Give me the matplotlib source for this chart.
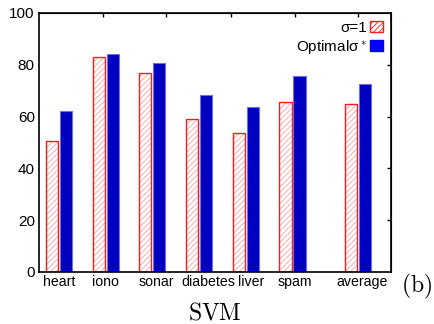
import numpy as np
import matplotlib
matplotlib.use("Agg")
import matplotlib.pyplot as plt
import matplotlib.transforms as mtransforms
from matplotlib.patches import Patch

plt.rcParams["font.family"] = ["Liberation Sans", "DejaVu Sans"]
plt.rcParams["mathtext.fontset"] = "cm"
plt.rcParams["hatch.linewidth"] = 0.6

# データ (SVM の精度)
datasets = ["heart", "iono", "sonar", "diabetes", "liver", "spam", "average"]
pos = [1, 2, 3, 4, 5, 6, 7.4]
acc_sigma1 = [50.6, 83.1, 76.7, 59.1, 53.5, 65.8, 64.7]
acc_opt = [62.0, 84.0, 80.6, 68.5, 63.7, 75.8, 72.5]
top_ticks = [1.94, 3.29, 4.68, 6.05, 7.40]
right_ticks = [20, 40, 60, 80]
# ラベルの横ずれ(px), 元図に合わせる
label_shift = [0, 0, 4, 9, 5, 2, 4]

fig = plt.figure(figsize=(4.35, 3.24), dpi=100)
ax = fig.add_axes([0.0897, 0.1605, 0.8092, 0.7994])

x = np.array(pos)
w = 0.26
off = 0.15

# σ=1 : 斜線 + 赤枠
ax.bar(x - off, acc_sigma1, width=w, color="white", edgecolor="#ffa0a0",
       hatch="//////", linewidth=0.5)
ax.bar(x - off, acc_sigma1, width=w, fill=False, edgecolor="#ff1a1a", linewidth=1.0)
# 最適σ*
ax.bar(x + off, acc_opt, width=w, color="#0000c0", edgecolor="#7070e0", linewidth=0.8)

ax.set_xlim(0.572, 8.11)
ax.set_ylim(0, 100)
ax.set_yticks([0, 20, 40, 60, 80, 100])
ax.set_xticks(pos)
ax.set_xticklabels(datasets)
ax.tick_params(axis="x", length=0, pad=2, labelsize=10.2)
ax.tick_params(axis="y", length=0, pad=3, labelsize=11)
for lab, dx in zip(ax.get_xticklabels(), label_shift):
    lab.set_transform(lab.get_transform() +
                      mtransforms.ScaledTranslation(dx / 100, 0, fig.dpi_scale_trans))
for s in ax.spines.values():
    s.set_linewidth(1.2)

sec_top = ax.secondary_xaxis("top")
sec_top.set_xticks(top_ticks)
sec_top.set_xticklabels([])
sec_top.tick_params(direction="in", length=3, width=1)
sec_right = ax.secondary_yaxis("right")
sec_right.set_yticks(right_ticks)
sec_right.set_yticklabels([])
sec_right.tick_params(direction="in", length=3, width=1)

handles = [Patch(facecolor="white", edgecolor="#ff1a1a", hatch="//////", linewidth=1.0),
           Patch(facecolor="#0000ff", edgecolor="#0000ff")]
ax.legend(handles, ["σ=1", "Optimalσ$^*$"], loc="upper right", frameon=False,
          markerfirst=False, fontsize=11, handlelength=0.85, handleheight=0.75,
          handletextpad=0.2, labelspacing=0.2, borderaxespad=0.3, borderpad=0.2)

fig.text(0.494, 0.0154, r"$\mathrm{SVM}$", fontsize=17, ha="center", va="baseline")
fig.text(0.922, 0.0988, r"$\mathrm{(b)}$", fontsize=17, ha="left", va="baseline")

fig.savefig("out.png", dpi=100)
